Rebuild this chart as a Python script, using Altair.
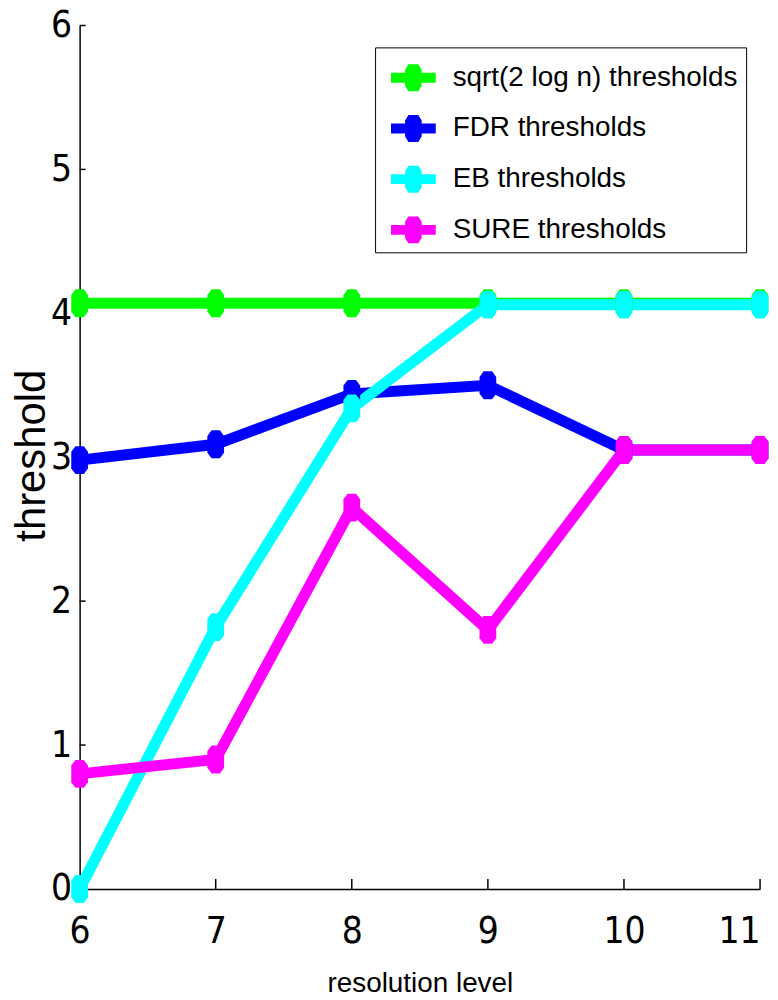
import altair as alt
import pandas as pd

levels = [6, 7, 8, 9, 10, 11]
series_names = ["sqrt(2 log n) thresholds", "FDR thresholds", "EB thresholds", "SURE thresholds"]
series_colors = ["#00ff00", "#0000ff", "#00ffff", "#ff00ff"]
universal = [4.07, 4.07, 4.07, 4.07, 4.07, 4.07]
fdr = [2.98, 3.09, 3.44, 3.50, 3.05, 3.05]
eb = [0.0, 1.82, 3.34, 4.06, 4.06, 4.06]
sure = [0.80, 0.90, 2.65, 1.80, 3.05, 3.05]
x_ticks = [6, 7, 8, 9, 10, 11]
y_ticks = [0, 1, 2, 3, 4, 5, 6]

rows = []
for name, vals in zip(series_names, [universal, fdr, eb, sure]):
    for lv, v in zip(levels, vals):
        rows.append({"level": lv, "threshold": v, "series": name, "series_line": name})
df = pd.DataFrame(rows)

W, H = 684, 868
FONT = "Liberation Sans"
TICKFONT = "DejaVu Sans Condensed"

xs = alt.Scale(domain=[6, 11], nice=False, zero=False)
ys = alt.Scale(domain=[0, 6], nice=False)

marker = "M-0.3,-1 L0.3,-1 L0.6,-0.6 L0.6,0.6 L0.3,1 L-0.3,1 L-0.6,0.6 L-0.6,-0.6 Z"
legend_sym = ("M-1,-0.22 L-0.37,-0.22 L-0.37,-0.36 L-0.22,-0.6 L0.22,-0.6 L0.37,-0.36 "
              "L0.37,-0.22 L1,-0.22 L1,0.22 L0.37,0.22 L0.37,0.36 L0.22,0.6 L-0.22,0.6 "
              "L-0.37,0.36 L-0.37,0.22 L-1,0.22 Z")

x_enc = alt.X("level:Q", scale=xs, axis=alt.Axis(
    values=x_ticks, format="d", title="resolution level", ticks=False, tickSize=0, grid=False,
    labelFont=TICKFONT, labelFontSize=37, labelColor="black", labelBaseline="alphabetic",
    labelPadding=54, labelFlush=False,
    labelAlign=alt.condition("datum.value == 11", alt.value("right"), alt.value("center")),
    titleFont=FONT, titleFontSize=28, titleFontWeight="normal", titleColor="black",
    titleBaseline="alphabetic", titleX=W / 2, titleY=103,
    domainColor="black", domainWidth=1.5))
y_enc = alt.Y("threshold:Q", scale=ys, axis=alt.Axis(
    values=y_ticks, format="d", title="threshold", ticks=False, tickSize=0, grid=False,
    labelFont=TICKFONT, labelFontSize=37, labelColor="black", labelPadding=8,
    titleFont=FONT, titleFontSize=42, titleFontWeight="normal",
    titleColor="black", titleAngle=270, titleBaseline="middle", titleAlign="center",
    titleX=-48, titleY=H / 2 - 2,
    domainColor="black", domainWidth=1.5))

lines = alt.Chart(df).mark_line(strokeWidth=11, clip=False).encode(
    x=x_enc, y=y_enc,
    stroke=alt.Stroke("series_line:N", scale=alt.Scale(domain=series_names, range=series_colors),
                      legend=alt.Legend(title=None, orient="none", legendX=297, legendY=22,
                                        strokeColor="black", fillColor="white", padding=8,
                                        symbolType=legend_sym, symbolSize=2025, symbolStrokeWidth=0,
                                        symbolOffset=8, labelOffset=17, rowPadding=14,
                                        labelFont=FONT, labelFontSize=28, labelColor="black",
                                        labelLimit=400)),
    detail="series:N",
)
points = alt.Chart(df).mark_point(filled=True, shape=marker, size=784, opacity=1, clip=False).encode(
    x="level:Q", y="threshold:Q",
    color=alt.Color("series:N", scale=alt.Scale(domain=series_names, range=series_colors),
                    legend=None),
)

ytick_df = pd.DataFrame({"t": y_ticks})
xtick_df = pd.DataFrame({"t": x_ticks})
yt = alt.Chart(ytick_df).mark_rule(color="black", strokeWidth=1.5).encode(
    y=alt.Y("t:Q", scale=ys), x=alt.value(0), x2=alt.value(6))
xt = alt.Chart(xtick_df).mark_rule(color="black", strokeWidth=1.5).encode(
    x=alt.X("t:Q", scale=xs), y=alt.value(H), y2=alt.value(H - 10))

chart = alt.layer(yt, xt, lines, points).properties(
    width=W, height=H,
    autosize=alt.AutoSizeParams(type="none"),
    padding={"left": 72, "top": 15, "right": 10, "bottom": 106},
).configure(background="white").configure_view(strokeWidth=0, stroke="transparent")

chart.save("out.html", embed_options={"renderer": "svg", "actions": False})
